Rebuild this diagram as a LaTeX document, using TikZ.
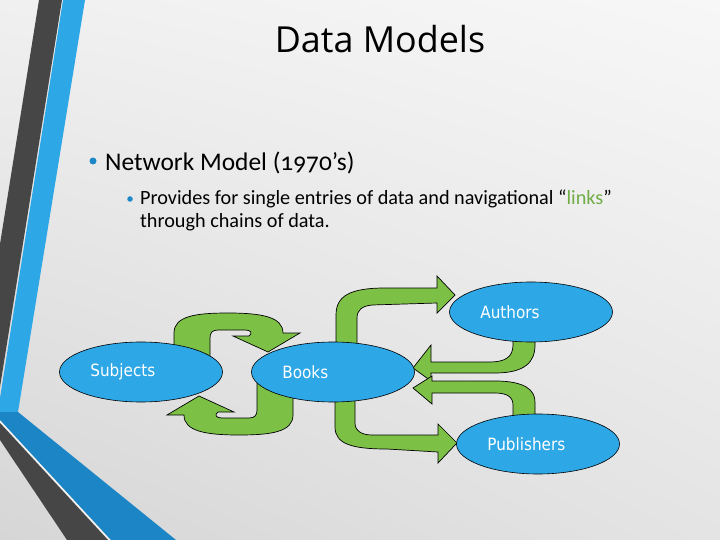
\documentclass[tikz,border=0pt]{standalone}
\usepackage{fontspec}
\setmainfont{Carlito}[Numbers=OldStyle]
\newfontfamily\titlefont{Open Sans}
\newfontfamily\shapefont{DejaVu Sans Condensed}
\usepackage{tikz}
\usetikzlibrary{shapes.geometric,positioning,shadings}
\definecolor{slideblue}{RGB}{45,167,230}
\definecolor{deepblue}{RGB}{27,133,198}
\definecolor{stripegray}{RGB}{70,70,70}
\definecolor{arrowgreen}{RGB}{125,192,70}
\definecolor{linkgreen}{RGB}{112,173,71}
\definecolor{dotblue}{RGB}{30,136,200}
\definecolor{bgul}{RGB}{240,240,240}
\definecolor{bgur}{RGB}{247,247,247}
\definecolor{bgll}{RGB}{214,214,214}
\definecolor{bglr}{RGB}{228,228,228}

\begin{document}
\begin{tikzpicture}[x=1bp, y=-1bp,
    entity/.style={ellipse, draw=black, line width=0.6bp, fill=slideblue,
                   minimum width=163bp, minimum height=60bp, inner sep=0pt},
    entlabel/.style={text=white, font=\shapefont\fontsize{17}{20}\selectfont,
                     inner sep=0pt},
    link/.style={draw=black, line width=0.7bp, fill=arrowgreen, line join=miter},
    bulletdot/.style={circle, fill=dotblue, inner sep=0pt}
]
    \useasboundingbox (0,0) rectangle (720,540);
    \shade[upper left=bgul, upper right=bgur, lower left=bgll, lower right=bglr]
        (0,0) rectangle (720,540);

    % side stripes
    \fill[stripegray] (39,0) -- (62,0) -- (0,387) -- (0,244) -- cycle;
    \fill[slideblue] (63,0) -- (85,0) -- (18,412) -- (0,412) -- (0,398) -- cycle;
    \fill[deepblue] (0,412) -- (18,412) -- (176,540) -- (111,540) -- (0,420) -- cycle;
    \fill[stripegray] (0,423) -- (108,540) -- (67,540) -- (0,440) -- cycle;
    \draw[white, line width=0.8bp] (0,421) -- (109.5,540);

    % texts
    \node[anchor=base, font=\titlefont\fontsize{36}{40}\selectfont, inner sep=0pt]
        (title) at (380,53) {Data Models};
    \node[bulletdot, minimum size=7bp] (dot1) at (93,161) {};
    \node[anchor=base west, font=\fontsize{25.5}{30}\selectfont, inner sep=0pt]
        (network) at (105,171) {Network Model (1970’s)};
    \node[bulletdot, minimum size=5.5bp] (dot2) at (130,199) {};
    \node[anchor=base west, font=\fontsize{20.3}{23}\selectfont, inner sep=0pt]
        (provides) at (140,205) {Provides for single entries of data and navigational “\textcolor{linkgreen}{links}”};
    \node[anchor=base west, font=\fontsize{20.3}{23}\selectfont, inner sep=0pt]
        (through) at (140,228) {through chains of data.};

    % green block arrows
    \path[link] (174,370) -- (174,333) .. controls (174,316) and (196,313) .. (228,313)
        .. controls (262,313) and (283,317) .. (283,333) -- (300,333) -- (268,352)
        -- (233,336) -- (249,336) .. controls (253,333) and (251,330) .. (245,330)
        -- (218,330) .. controls (212,330) and (210,333) .. (210,338) -- (210,370) -- cycle;
    \path[link, rotate around={180:(233.5,374)}] (174,370) -- (174,333)
        .. controls (174,316) and (196,313) .. (228,313)
        .. controls (262,313) and (283,317) .. (283,333) -- (300,333) -- (268,352)
        -- (233,336) -- (249,336) .. controls (253,333) and (251,330) .. (245,330)
        -- (218,330) .. controls (212,330) and (210,333) .. (210,338) -- (210,370) -- cycle;
    \path[link] (336,360) -- (336,315) .. controls (336,296) and (350,288) .. (385,288)
        -- (437,288) -- (437,276) -- (455,295) -- (437,313) -- (437,303) -- (372,305)
        .. controls (362,306) and (357,310) .. (357,318) -- (357,360) -- cycle;
    \path[link] (335,385) -- (335,427) .. controls (335,444) and (352,449) .. (387,449)
        -- (438,452) -- (438,463) -- (457,443) -- (438,424) -- (438,435) -- (372,435)
        .. controls (362,435) and (355,431) .. (355,423) -- (355,385) -- cycle;
    \path[link] (513,330) -- (513,345) .. controls (513,357) and (505,362) .. (490,362)
        -- (431,362) -- (431,345) -- (413,368) -- (431,381) -- (431,373) -- (495,373)
        .. controls (525,373) and (535,362) .. (535,345) -- (535,330) -- cycle;
    \path[link] (513,425) -- (513,405) .. controls (513,397) and (507,393) .. (495,393)
        -- (432,393) -- (432,404) -- (413,388) -- (432,376) -- (432,381) -- (495,381)
        .. controls (525,381) and (535,390) .. (535,402) -- (535,425) -- cycle;

    % entities
    \node[entity] (subjects)   at (141,372) {};
    \node[entity] (books)      at (333,372) {};
    \node[entity] (authors)    at (531,312) {};
    \node[entity] (publishers) at (538,444) {};
    \node[entlabel, right=31bp of subjects.west]   (subjtext) {Subjects};
    \node[entlabel, right=31bp of books.west]      (booktext) {Books};
    \node[entlabel, right=31bp of authors.west]    (authtext) {Authors};
    \node[entlabel, right=31bp of publishers.west] (pubtext)  {Publishers};
\end{tikzpicture}
\end{document}
